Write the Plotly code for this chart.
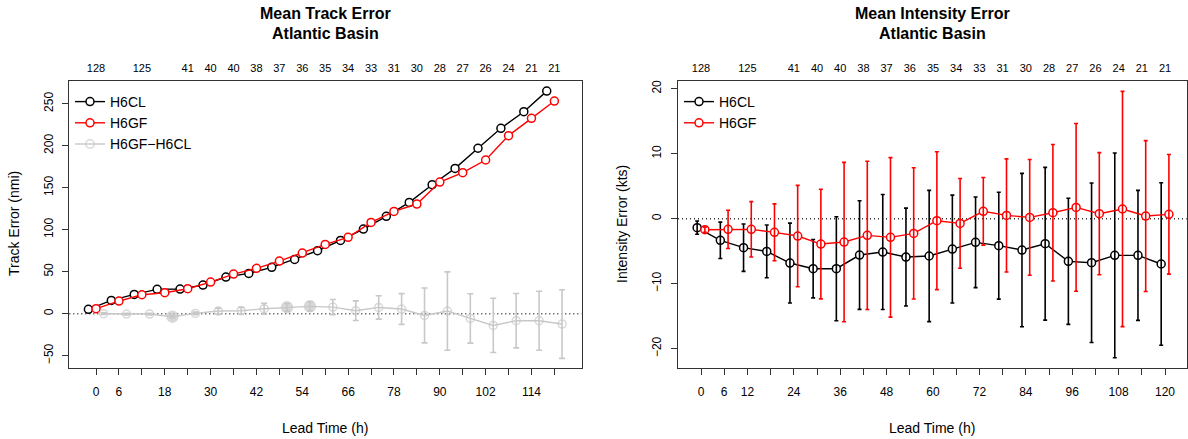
import plotly.graph_objects as go

# ---------------- data ----------------
lead = [0, 6, 12, 18, 24, 30, 36, 42, 48, 54, 60, 66, 72, 78, 84, 90, 96, 102, 108, 114, 120]

top_labels = ["128", "", "125", "", "41", "40", "40", "38", "37", "36", "35", "34",
              "33", "31", "30", "28", "27", "26", "24", "21", "21"]
bottom_labels_track = ["0", "6", "", "18", "", "30", "", "42", "", "54", "", "66",
                       "", "78", "", "90", "", "102", "", "114", ""]
bottom_labels_int = ["0", "6", "12", "", "24", "", "36", "", "48", "", "60", "",
                     "72", "", "84", "", "96", "", "108", "", "120"]

track_h6cl = [5.2, 15.9, 23.0, 29.0, 29.4, 34.1, 43.7, 48.0, 55.2, 64.7, 75.0, 87.3,
              100.8, 115.9, 132.5, 153.6, 173.0, 197.0, 220.7, 240.5, 265.0]
track_h6gf = [6.0, 15.1, 22.6, 25.0, 29.8, 37.7, 47.2, 54.0, 62.7, 72.2, 82.5, 90.9,
              108.7, 121.8, 130.6, 156.7, 167.9, 183.0, 212.0, 232.6, 253.2]
track_diff = [0.0, -0.4, -0.4, -3.5, 0.4, 3.2, 3.6, 6.0, 7.6, 8.8, 7.9, 3.6,
              7.5, 5.6, -2.0, 3.2, -5.6, -13.9, -8.3, -8.3, -12.3]
track_diff_err = [1.0, 1.0, 1.0, 1.5, 1.5, 3.5, 4.0, 6.5, 4.5, 5.5, 9.0, 11.7,
                  13.9, 18.3, 32.7, 46.6, 29.4, 32.3, 32.3, 35.1, 40.9]

int_h6cl = [-1.38, -3.33, -4.46, -5.03, -6.82, -7.69, -7.69, -5.59, -5.13, -5.90, -5.74,
            -4.67, -3.64, -4.15, -4.82, -3.85, -6.56, -6.77, -5.64, -5.64, -6.97]
int_h6cl_err = [1.02, 2.8, 3.64, 4.05, 6.14, 4.49, 8.0, 8.36, 8.85, 7.52, 10.1,
                8.3, 6.97, 8.23, 11.8, 11.75, 9.7, 12.27, 15.75, 10.0, 12.5]
int_h6gf = [-1.69, -1.64, -1.64, -2.10, -2.67, -3.90, -3.59, -2.56, -2.87, -2.26, -0.31,
            -0.72, 1.13, 0.51, 0.20, 0.92, 1.74, 0.77, 1.49, 0.41, 0.67]
int_h6gf_err = [0.4, 2.95, 4.26, 4.38, 7.8, 8.43, 12.26, 11.4, 12.27, 10.1, 10.6,
                6.9, 5.2, 8.7, 8.9, 10.5, 12.9, 9.4, 18.1, 11.6, 9.2]

track_yticks = [-50, 0, 50, 100, 150, 200, 250]
int_yticks = [-20, -10, 0, 10, 20]

# ---------------- style ----------------
W, H = 1188, 439
FONT = "Liberation Sans, Arial, Helvetica, sans-serif"
BLACK, RED, GRAY = "#000000", "#FF0000", "#C8C8C8"
AXC = "#333333"


def px_x(p):
    return p / W


def px_y(p):
    return 1 - p / H


L_dom = [px_x(69.3), px_x(581.5)]
R_dom = [px_x(678.0), px_x(1186.7)]
Y_dom = [px_y(368.0), px_y(80.7)]

fig = go.Figure()


def shift(xs, d):
    return [x + d for x in xs]


def series(x, y, color, name, xa, ya, legend, err=None):
    fig.add_trace(go.Scatter(
        x=x, y=y, mode="lines+markers", name=name, xaxis=xa, yaxis=ya, legend=legend,
        line=dict(color=color, width=1.4),
        marker=dict(symbol="circle", size=8, color="white", line=dict(color=color, width=1.5)),
        hoverinfo="x+y"))
    if err is not None:
        fig.add_trace(go.Scatter(
            x=x, y=y, mode="markers", xaxis=xa, yaxis=ya, showlegend=False,
            marker=dict(size=1, color="rgba(0,0,0,0)"),
            error_y=dict(type="data", array=err, visible=True, color=color,
                         thickness=1.6, width=2),
            hoverinfo="skip"))


# ---- left panel: track error ----
sig = [abs(d) > e for d, e in zip(track_diff, track_diff_err)]
series(shift(lead, -2), track_h6cl, BLACK, "H6CL", "x", "y", "legend")
series(shift(lead, 0), track_h6gf, RED, "H6GF", "x", "y", "legend")
fig.add_trace(go.Scatter(
    x=shift(lead, 2), y=track_diff, mode="lines+markers", name="H6GF\u2212H6CL",
    xaxis="x", yaxis="y", legend="legend",
    line=dict(color=GRAY, width=1.4),
    marker=dict(symbol=["circle" if s else "circle-open" for s in sig],
                size=[11 if s else 8 for s in sig], color=GRAY,
                line=dict(color=GRAY, width=1.5)),
    error_y=dict(type="data", array=track_diff_err, visible=True, color=GRAY,
                 thickness=1.6, width=3)))

# invisible traces to carry the top (sample size) axes
fig.add_trace(go.Scatter(x=lead, y=track_h6gf, xaxis="x3", yaxis="y", mode="markers",
                         marker=dict(opacity=0), showlegend=False, hoverinfo="skip"))

# ---- right panel: intensity error ----
series(shift(lead, -1), int_h6cl, BLACK, "H6CL", "x2", "y2", "legend2", int_h6cl_err)
series(shift(lead, 1), int_h6gf, RED, "H6GF", "x2", "y2", "legend2", int_h6gf_err)
fig.add_trace(go.Scatter(x=lead, y=int_h6gf, xaxis="x4", yaxis="y2", mode="markers",
                         marker=dict(opacity=0), showlegend=False, hoverinfo="skip"))

xcommon = dict(tickvals=lead, ticks="outside", ticklen=6, tickwidth=1, tickcolor=AXC,
               showline=True, linecolor=AXC, linewidth=1, mirror=True,
               showgrid=False, zeroline=False,
               tickfont=dict(family=FONT, size=12, color="#000"), ticklabelstandoff=7)
ycommon = dict(ticks="outside", ticklen=6, tickwidth=1, tickcolor=AXC,
               showline=True, linecolor=AXC, linewidth=1, mirror=True,
               showgrid=False, zeroline=False, tickangle=-90,
               tickfont=dict(family=FONT, size=12, color="#000"), ticklabelstandoff=5)
topcommon = dict(tickvals=lead, ticks="", showline=False, showgrid=False, zeroline=False,
                 side="top", tickfont=dict(family=FONT, size=11, color="#000"),
                 ticklabelstandoff=6)

fig.update_layout(
    width=W, height=H, margin=dict(l=0, r=0, t=0, b=0),
    paper_bgcolor="white", plot_bgcolor="white",
    font=dict(family=FONT, color="#000"),
    showlegend=True,
    xaxis=dict(domain=L_dom, range=[-7.0, 127.1], ticktext=bottom_labels_track, anchor="y", **xcommon),
    yaxis=dict(domain=Y_dom, range=[-64.6, 277.4], tickvals=track_yticks, anchor="x", **ycommon),
    xaxis2=dict(domain=R_dom, range=[-5.95, 125.6], ticktext=bottom_labels_int, anchor="y2", **xcommon),
    yaxis2=dict(domain=Y_dom, range=[-22.97, 21.23], tickvals=int_yticks, anchor="x2", **ycommon),
    xaxis3=dict(overlaying="x", anchor="y", range=[-7.0, 127.1], ticktext=top_labels, **topcommon),
    xaxis4=dict(overlaying="x2", anchor="y2", range=[-5.95, 125.6], ticktext=top_labels, **topcommon),
    legend=dict(x=px_x(70), y=px_y(86), xanchor="left", yanchor="top",
                bgcolor="rgba(0,0,0,0)", font=dict(family=FONT, size=14, color="#000"),
                tracegroupgap=0, itemwidth=30),
    legend2=dict(x=px_x(679), y=px_y(86), xanchor="left", yanchor="top",
                 bgcolor="rgba(0,0,0,0)", font=dict(family=FONT, size=14, color="#000"),
                 tracegroupgap=0, itemwidth=30),
    shapes=[
        dict(type="line", xref="x domain", yref="y", x0=0, x1=1, y0=0, y1=0, layer="below",
             line=dict(color="#333", width=1.5, dash="1px,3px")),
        dict(type="line", xref="x2 domain", yref="y2", x0=0, x1=1, y0=0, y1=0, layer="below",
             line=dict(color="#333", width=1.5, dash="1px,3px")),
    ],
)

annotations = []
for cx, title in [((69.3 + 581.5) / 2, "Mean Track Error"), ((678.0 + 1186.7) / 2, "Mean Intensity Error")]:
    annotations.append(dict(x=px_x(cx), y=px_y(14), xref="paper", yref="paper", text="<b>" + title + "</b>",
                            showarrow=False, xanchor="center", yanchor="middle",
                            font=dict(family=FONT, size=16, color="#000")))
    annotations.append(dict(x=px_x(cx), y=px_y(33), xref="paper", yref="paper", text="<b>Atlantic Basin</b>",
                            showarrow=False, xanchor="center", yanchor="middle",
                            font=dict(family=FONT, size=16, color="#000")))
    annotations.append(dict(x=px_x(cx), y=px_y(428), xref="paper", yref="paper", text="Lead Time (h)",
                            showarrow=False, xanchor="center", yanchor="middle",
                            font=dict(family=FONT, size=14, color="#000")))
annotations.append(dict(x=px_x(14), y=px_y(224), xref="paper", yref="paper", text="Track Error (nmi)",
                        textangle=-90, showarrow=False, xanchor="center", yanchor="middle",
                        font=dict(family=FONT, size=14, color="#000")))
annotations.append(dict(x=px_x(622), y=px_y(224), xref="paper", yref="paper", text="Intensity Error (kts)",
                        textangle=-90, showarrow=False, xanchor="center", yanchor="middle",
                        font=dict(family=FONT, size=14, color="#000")))
fig.update_layout(annotations=annotations)

fig.write_html("out.html")
